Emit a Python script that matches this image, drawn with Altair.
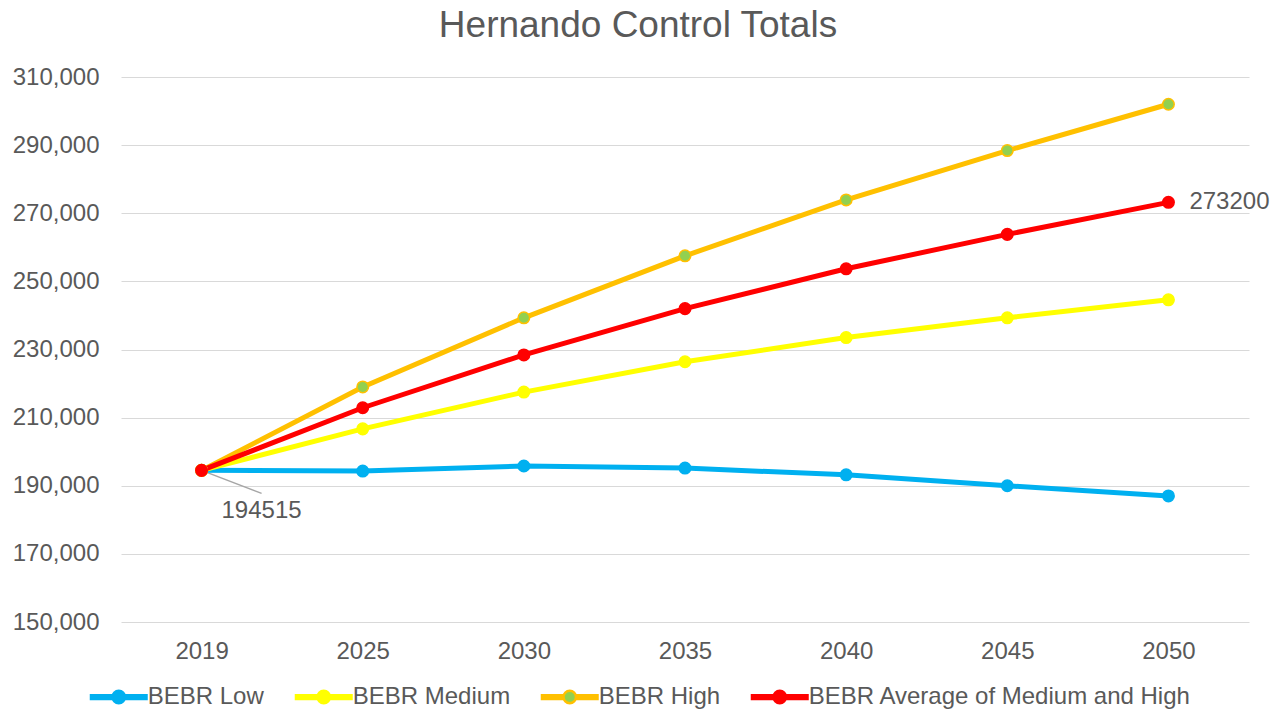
import altair as alt
import pandas as pd

years = ["2019", "2025", "2030", "2035", "2040", "2045", "2050"]
series_names = ["BEBR Low", "BEBR Medium", "BEBR High", "BEBR Average of Medium and High"]
low = [194515, 194300, 195800, 195200, 193200, 190000, 187000]
medium = [194515, 206700, 217500, 226400, 233500, 239300, 244600]
high = [194515, 219000, 239300, 257500, 273900, 288400, 302000]
average = [194515, 212900, 228400, 242000, 253700, 263800, 273200]
y_ticks = [150000, 170000, 190000, 210000, 230000, 250000, 270000, 290000, 310000]

line_colors = ["#00B0F0", "#FFFF00", "#FFC000", "#FF0000"]
fill_colors = ["#00B0F0", "#FFFF00", "#92D050", "#FF0000"]

rows = []
for name, vals in zip(series_names, [low, medium, high, average]):
    for yr, v in zip(years, vals):
        rows.append({"year": yr, "value": v, "series": name})
df = pd.DataFrame(rows)

start_df = pd.DataFrame({"year": [years[0]], "value": [low[0]], "label": [str(low[0])]})
end_df = pd.DataFrame({"year": [years[-1]], "value": [average[-1]], "label": [str(average[-1])]})

FONT = "Liberation Sans"
TXT = "#595959"
FS = 24

x_scale = alt.Scale(type="point", padding=0.5, domain=years)
y_scale = alt.Scale(domain=[150000, 310000], nice=False, zero=False)

x_enc = alt.X("year:O", scale=x_scale,
              axis=alt.Axis(title=None, domain=False, ticks=False, grid=False,
                            labelAngle=0, labelAlign="center", labelFontSize=FS,
                            labelColor=TXT, labelFont=FONT, labelPadding=29))
y_enc = alt.Y("value:Q", scale=y_scale,
              axis=alt.Axis(title=None, domain=False, ticks=False, values=y_ticks,
                            format=",d", labelFontSize=FS, labelColor=TXT,
                            labelFont=FONT, labelPadding=22,
                            gridColor="#D9D9D9", gridWidth=1))

stroke_scale = alt.Scale(domain=series_names, range=line_colors)
fill_scale = alt.Scale(domain=series_names, range=fill_colors)

sym_path = ("M-4.64,-0.3L-1,-0.3M-4.64,0L-1,0M-4.64,0.3L-1,0.3"
            "M1,-0.3L4.64,-0.3M1,0L4.64,0M1,0.3L4.64,0.3"
            "M1,0A1,1,0,1,1,-1,0A1,1,0,1,1,1,0Z")

def make_legend():
    return alt.Legend(title=None, orient="none", direction="horizontal",
                      legendX=-14.25, legendY=608, symbolType=sym_path,
                      symbolSize=156.25, symbolStrokeWidth=2.5, symbolOpacity=1,
                      labelFontSize=FS, labelFont=FONT, labelColor=TXT,
                      labelOffset=17, columnPadding=25, padding=0,
                      columns=4, labelLimit=600)

lines = alt.Chart(df).mark_line(strokeWidth=5).encode(
    x=x_enc, y=y_enc,
    stroke=alt.Stroke("series:N", scale=stroke_scale, legend=make_legend()),
    detail="series:N",
)

points = alt.Chart(df).mark_point(filled=True, size=133, strokeWidth=1.5, opacity=1).encode(
    x=x_enc, y=y_enc,
    stroke=alt.Stroke("series:N", scale=stroke_scale, legend=make_legend()),
    fill=alt.Fill("series:N", scale=fill_scale, legend=make_legend()),
)

leader = alt.Chart(start_df).mark_rule(color="#A6A6A6", strokeWidth=1.5,
                                       x2Offset=60, y2Offset=23).encode(
    x=alt.X("year:O", scale=x_scale), y=alt.Y("value:Q", scale=y_scale),
    x2=alt.X2("year"), y2=alt.Y2("value"),
)

start_text = alt.Chart(start_df).mark_text(dx=60, dy=41, align="center", baseline="middle",
                                           fontSize=FS, font=FONT, color=TXT).encode(
    x=alt.X("year:O", scale=x_scale), y=alt.Y("value:Q", scale=y_scale), text="label:N")

end_text = alt.Chart(end_df).mark_text(dx=21, dy=0, align="left", baseline="middle",
                                       fontSize=FS, font=FONT, color=TXT).encode(
    x=alt.X("year:O", scale=x_scale), y=alt.Y("value:Q", scale=y_scale), text="label:N")

chart = alt.layer(leader, lines, points, start_text, end_text).properties(
    width=1128, height=545,
    title=alt.TitleParams("Hernando Control Totals", fontSize=37, font=FONT,
                          color=TXT, fontWeight="normal", anchor="middle",
                          dx=-47, offset=20),
    autosize=alt.AutoSizeParams(type="none"),
    padding={"left": 113, "top": 69, "right": 21, "bottom": 88},
).configure(font=FONT).configure_view(stroke=None)

chart.save("out.html", embed_options={"renderer": "svg", "actions": False})
